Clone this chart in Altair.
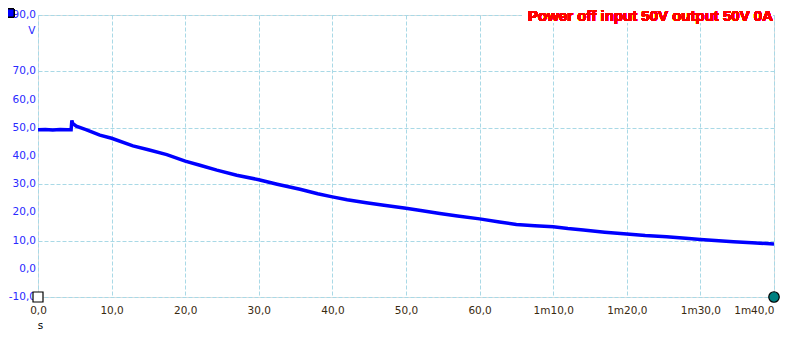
import altair as alt
import pandas as pd

# Voltage trace (time in s, voltage in V)
t_vals = [0, 1, 2, 3, 4, 4.5, 4.6, 4.7, 5.2, 6.6, 8.4, 10, 12.9, 15, 17.5, 20, 22, 24.3, 27, 30,
          32.5, 35.6, 38, 40, 42, 44.6, 47, 50, 52, 54.6, 57, 60, 62.7, 65, 67.5, 70, 72, 74.1,
          77, 80, 82.5, 85.4, 88, 90, 92, 94.5, 97, 100]
v_vals = [49.3, 49.4, 49.2, 49.4, 49.3, 49.3, 52.6, 51.6, 50.6, 49.3, 47.4, 46.3, 43.6, 42.2, 40.5,
          38.2, 36.7, 35.0, 33.2, 31.6, 30.0, 28.2, 26.6, 25.5, 24.5, 23.4, 22.5, 21.5, 20.7, 19.6,
          18.7, 17.7, 16.6, 15.7, 15.3, 14.9, 14.3, 13.8, 13.0, 12.3, 11.8, 11.4, 10.8, 10.4, 10.0,
          9.6, 9.2, 8.8]

x_ticks = [0, 10, 20, 30, 40, 50, 60, 70, 80, 90, 100]
x_labels = ["0,0", "10,0", "20,0", "30,0", "40,0", "50,0", "60,0",
            "1m10,0", "1m20,0", "1m30,0", "1m40,0"]
y_ticks = [-10, 0, 10, 20, 30, 40, 50, 60, 70, 80, 90]
y_labels = ["-10,0", "0,0", "10,0", "20,0", "30,0", "40,0", "50,0", "60,0", "70,0", "", "90,0"]

# cursor markers
cursor_t = [0, 100]
cursor_v = [-10, -10]

title_text = "Power off input 50V output 50V 0A"

df = pd.DataFrame({"t": t_vals, "v": v_vals})
cur = pd.DataFrame({"t": cursor_t, "v": cursor_v, "kind": ["a", "b"]})
ylab_df = pd.DataFrame({"v": y_ticks, "lab": y_labels})

xlab = "[" + ",".join("'%s'" % s for s in x_labels) + "][round(datum.value/10)]"

FONT = "DejaVu Sans"
GRID = "#a9d9e6"
YCOL = "#2a2aff"

xscale = alt.Scale(domain=[0, 100], nice=False, zero=False)
yscale = alt.Scale(domain=[-10, 90], nice=False, zero=False)

xaxis = alt.Axis(values=x_ticks, labelExpr=xlab, domain=False, ticks=False, grid=True,
                 gridColor=GRID, gridDash=[4, 2], gridOpacity=1, labelFlush=False,
                 labelOverlap=False,
                 labelAlign={"condition": {"test": "datum.value >= 100", "value": "right"},
                             "value": "center"},
                 labelColor="#3a2a10", labelFont=FONT, labelFontSize=10.5, labelPadding=8,
                 title="s", titleX=2, titleY=31, titleAlign="center", titleBaseline="alphabetic",
                 titleFont=FONT, titleFontSize=10.5, titleFontWeight="normal", titleColor="black")
yaxis = alt.Axis(values=y_ticks, labels=False, domain=False, ticks=False, grid=True,
                 gridColor=GRID, gridDash=[4, 2], gridOpacity=1,
                 title="V", titleAngle=0, titleX=-3, titleY=15, titleAlign="right",
                 titleBaseline="middle", titleFont=FONT, titleFontSize=10.5,
                 titleFontWeight="normal", titleColor=YCOL)

line = alt.Chart(df).mark_line(color="#0000ff", strokeWidth=3.5, clip=True).encode(
    x=alt.X("t:Q", scale=xscale, axis=xaxis),
    y=alt.Y("v:Q", scale=yscale, axis=yaxis),
)

ylabels = alt.Chart(ylab_df).mark_text(
    align="right", baseline="middle", font=FONT, fontSize=10.5, color=YCOL
).encode(
    x=alt.value(-2),
    y=alt.Y("v:Q", scale=yscale),
    text="lab:N",
)

title_bg = alt.Chart(df).mark_rect(fill="white").encode(
    x=alt.value(484), x2=alt.value(735), y=alt.value(-10), y2=alt.value(8)
)
title_txt = alt.Chart(df).mark_text(
    text=title_text, align="right", baseline="alphabetic", font="Liberation Sans",
    fontSize=15, fontWeight="bold", color="#ff0000"
).encode(x=alt.value(735), y=alt.value(5.5))

sq = alt.Chart(cur[cur.kind == "a"]).mark_square(size=100, fill="white", stroke="black",
                                                 strokeWidth=1.2, opacity=1).encode(
    x=alt.X("t:Q", scale=xscale), y=alt.Y("v:Q", scale=yscale)
)
circ = alt.Chart(cur[cur.kind == "b"]).mark_circle(size=110, fill="#008080", stroke="black",
                                                   strokeWidth=1.2, opacity=1).encode(
    x=alt.X("t:Q", scale=xscale), y=alt.Y("v:Q", scale=yscale)
)
legend_sq = alt.Chart(df).mark_square(size=64, fill="#0000ff", stroke="black",
                                      strokeWidth=1, opacity=1).encode(
    x=alt.value(-28), y=alt.value(-2)
)

chart = alt.layer(line, ylabels, title_bg, title_txt, sq, circ, legend_sq).properties(
    width=736, height=282,
    autosize=alt.AutoSizeParams(type="none"),
    padding={"left": 30, "top": 7, "right": 9, "bottom": 33},
).configure_view(stroke=None).configure(background="white")

chart.save("out.html", embed_options={"renderer": "svg", "actions": False})
